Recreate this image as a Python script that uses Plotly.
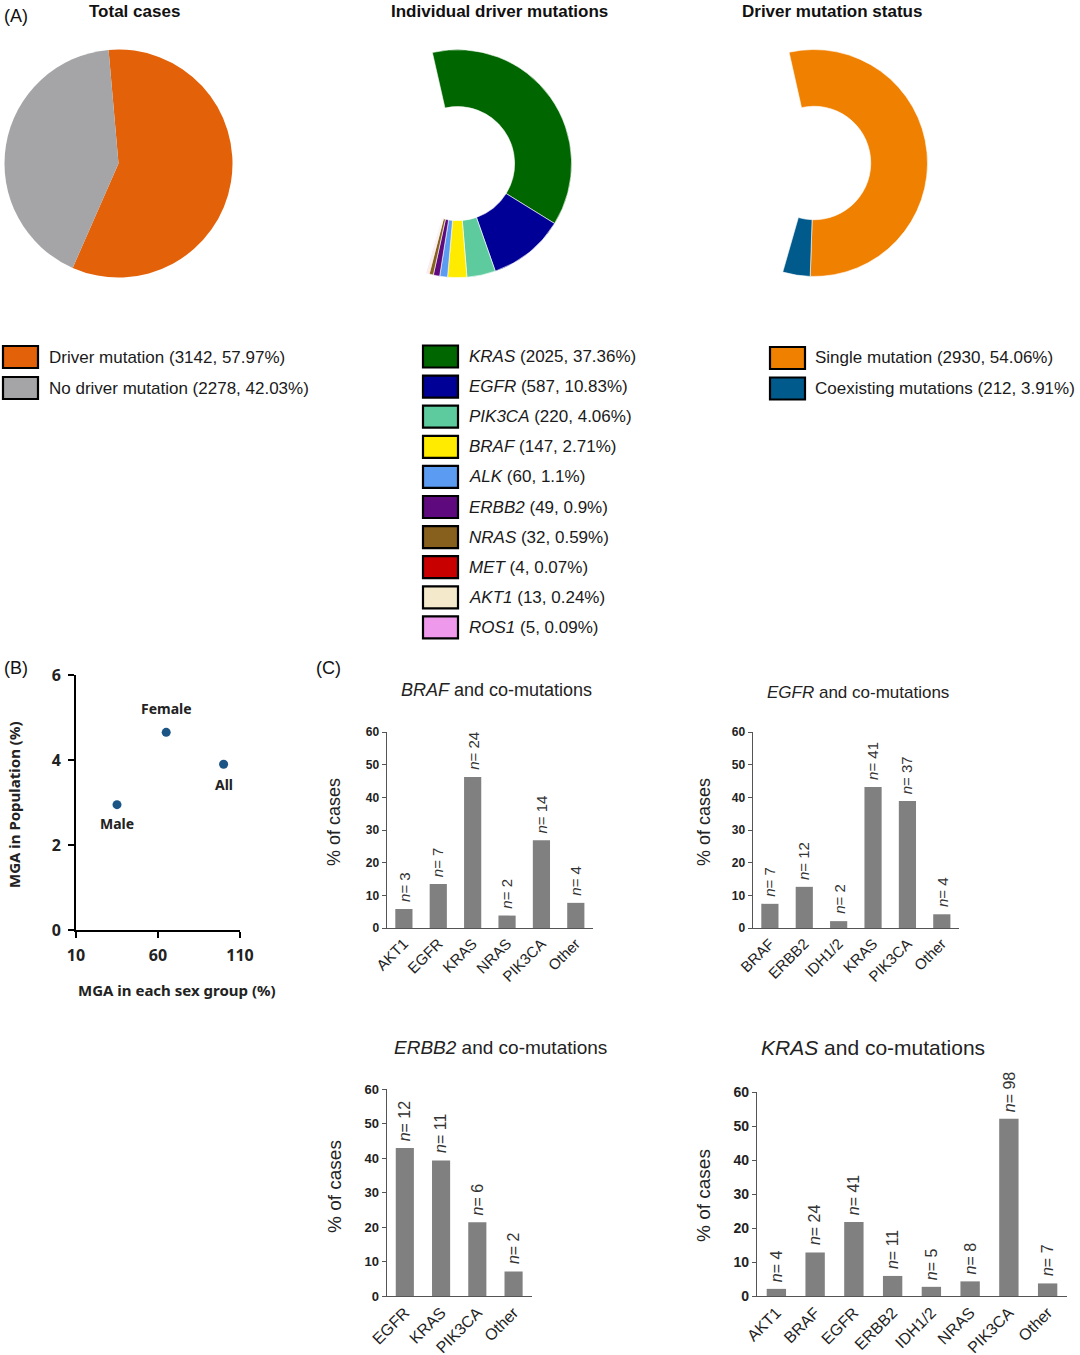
import plotly.graph_objects as go

W, H = 1080, 1355


def px(x):
    return x / W


def py(y):
    return 1 - y / H


# ---------------- data ----------------
total_labels = ["Driver mutation", "No driver mutation"]
total_counts = [3142, 2278]
total_pct = ["57.97", "42.03"]
total_colors = ["#E36209", "#A5A5A8"]

driver_genes = ["KRAS", "EGFR", "PIK3CA", "BRAF", "ALK", "ERBB2", "NRAS", "MET", "AKT1", "ROS1"]
driver_counts = [2025, 587, 220, 147, 60, 49, 32, 4, 13, 5]
driver_pct = ["37.36", "10.83", "4.06", "2.71", "1.1", "0.9", "0.59", "0.07", "0.24", "0.09"]
driver_colors = ["#006600", "#000096", "#5DCB9E", "#FFEB00", "#5C9BF2", "#5E0A7E",
                 "#87601E", "#C80000", "#F4EACB", "#EE99EC"]

status_labels = ["Single mutation", "Coexisting mutations"]
status_counts = [2930, 212]
status_pct = ["54.06", "3.91"]
status_colors = ["#F08000", "#005B8C"]

no_driver_count = 2278

sex_labels = ["Male", "Female", "All"]
mga_group = [35, 65, 100]
mga_pop = [2.95, 4.65, 3.9]

braf_cats = ["AKT1", "EGFR", "KRAS", "NRAS", "PIK3CA", "Other"]
braf_pct = [5.8, 13.5, 46.2, 3.8, 26.9, 7.7]
braf_n = [3, 7, 24, 2, 14, 4]

egfr_cats = ["BRAF", "ERBB2", "IDH1/2", "KRAS", "PIK3CA", "Other"]
egfr_pct = [7.4, 12.6, 2.1, 43.2, 38.9, 4.2]
egfr_n = [7, 12, 2, 41, 37, 4]

erbb2_cats = ["EGFR", "KRAS", "PIK3CA", "Other"]
erbb2_pct = [42.9, 39.3, 21.4, 7.1]
erbb2_n = [12, 11, 6, 2]

kras_cats = ["AKT1", "BRAF", "EGFR", "ERBB2", "IDH1/2", "NRAS", "PIK3CA", "Other"]
kras_pct = [2.1, 12.8, 21.8, 5.9, 2.7, 4.3, 52.1, 3.7]
kras_n = [4, 24, 41, 11, 5, 8, 98, 7]

ARIAL = "Liberation Sans, Arial, sans-serif"
SANS = "Noto Sans, Open Sans, sans-serif"
BAR_COLOR = "#808080"
AXIS_COLOR = "#555555"

fig = go.Figure()

# ---------------- (A) pies ----------------
fig.add_trace(go.Pie(
    labels=total_labels, values=total_counts, sort=False, direction="clockwise",
    rotation=-5, textinfo="none", showlegend=False, automargin=False,
    marker=dict(colors=total_colors, line=dict(width=0)),
    domain=dict(x=[px(4.5), px(232.5)], y=[py(277.5), py(49.5)]),
))

fig.add_trace(go.Pie(
    labels=driver_genes + ["none"], values=driver_counts + [no_driver_count],
    sort=False, direction="clockwise", rotation=-12.8, hole=0.5,
    textinfo="none", showlegend=False, automargin=False,
    marker=dict(colors=driver_colors + ["rgba(0,0,0,0)"],
                line=dict(color="white", width=[0.6] * len(driver_genes) + [0])),
    domain=dict(x=[px(343.6), px(571.6)], y=[py(277.6), py(49.6)]),
))

fig.add_trace(go.Pie(
    labels=status_labels + ["none"], values=status_counts + [no_driver_count],
    sort=False, direction="clockwise", rotation=-12.7, hole=0.5,
    textinfo="none", showlegend=False, automargin=False,
    marker=dict(colors=status_colors + ["rgba(0,0,0,0)"],
                line=dict(color="white", width=[0.6, 0.6, 0])),
    domain=dict(x=[px(700.5), px(927.5)], y=[py(276.5), py(49.5)]),
))

# ---------------- (B) scatter ----------------
fig.add_trace(go.Scatter(
    x=mga_group, y=mga_pop, mode="markers", xaxis="x", yaxis="y",
    marker=dict(color="#1B5586", size=9), showlegend=False, cliponaxis=False,
))

# ---------------- (C) bars ----------------
bar_sets = [
    (braf_cats, braf_pct, braf_n, "x2", "y2", 15),
    (egfr_cats, egfr_pct, egfr_n, "x3", "y3", 15),
    (erbb2_cats, erbb2_pct, erbb2_n, "x4", "y4", 16),
    (kras_cats, kras_pct, kras_n, "x5", "y5", 16),
]
for cats, vals, ns, xa, ya, fs in bar_sets:
    fig.add_trace(go.Bar(
        x=cats, y=vals, xaxis=xa, yaxis=ya, width=0.5,
        marker=dict(color=BAR_COLOR, line=dict(width=0)),
        showlegend=False, cliponaxis=False,
    ))

# ---------------- layout ----------------
scatter_axis = dict(showline=True, linecolor="black", linewidth=2, ticks="outside",
                    ticklen=6, tickwidth=2, tickcolor="black", showgrid=False,
                    zeroline=False, automargin=False,
                    tickfont=dict(family=SANS, size=16, color="#222222", weight="bold"))

layout = dict(
    width=W, height=H, margin=dict(l=0, r=0, t=0, b=0, pad=0, autoexpand=False),
    paper_bgcolor="white", plot_bgcolor="white",
    bargap=0.5,
    xaxis=dict(domain=[px(76), px(240)], range=[10, 110], tickvals=[10, 60, 110],
               anchor="y", ticklabelstandoff=4, **scatter_axis),
    yaxis=dict(domain=[py(930), py(675)], range=[0, 6], tickvals=[0, 2, 4, 6],
               anchor="x", ticklabelstandoff=4, **scatter_axis),
)


def bar_axes(n, xdom, ydom, ytick_size, xtick_size):
    xa = dict(domain=[px(xdom[0]), px(xdom[1])], anchor=f"y{n}", type="category",
              showline=True, linecolor=AXIS_COLOR, linewidth=1.3, ticks="",
              tickangle=-45, showgrid=False, zeroline=False, automargin=False,
              tickfont=dict(family=ARIAL, size=xtick_size, color="#222222"))
    ya = dict(domain=[py(ydom[1]), py(ydom[0])], anchor=f"x{n}", range=[0, 60],
              tickvals=[0, 10, 20, 30, 40, 50, 60], showline=True,
              linecolor=AXIS_COLOR, linewidth=1.3, ticks="outside", ticklen=4,
              tickcolor=AXIS_COLOR, showgrid=False, zeroline=False, automargin=False,
              tickfont=dict(family=ARIAL, size=ytick_size, color="#222222", weight="bold"))
    return xa, ya


for n, xdom, ydom, yts, xts in [
    (2, (386.7, 593), (732, 928), 12, 15),
    (3, (752.7, 959), (732, 928), 12, 15),
    (4, (386.7, 531.7), (1089, 1296), 13, 16),
    (5, (757, 1067), (1092, 1296), 14, 16),
]:
    xa, ya = bar_axes(n, xdom, ydom, yts, xts)
    layout[f"xaxis{n}"] = xa
    layout[f"yaxis{n}"] = ya

fig.update_layout(**layout)

ann = []
shapes = []


def text(x, y, s, size, family=ARIAL, xanchor="center", yanchor="middle", angle=0,
         weight="normal", color="#111111"):
    ann.append(dict(x=px(x), y=py(y), xref="paper", yref="paper", text=s, showarrow=False,
                    xanchor=xanchor, yanchor=yanchor, textangle=angle,
                    font=dict(family=family, size=size, color=color, weight=weight)))


# n labels above bars
for cats, vals, ns, xa, ya, fs in bar_sets:
    for c, v, n in zip(cats, vals, ns):
        ann.append(dict(x=c, y=v, xref=xa, yref=ya, text=f"<i>n</i>= {n}",
                        showarrow=False, textangle=-90, xanchor="center",
                        yanchor="bottom", yshift=6, borderpad=0,
                        font=dict(family=ARIAL, size=fs, color="#333333")))

# panel labels
text(2, 16, "(A)", 18, xanchor="left")
text(2, 668, "(B)", 18, xanchor="left")
text(314, 668, "(C)", 18, xanchor="left")

# pie titles
text(134, 11, "Total cases", 17, weight="bold")
text(499, 11, "Individual driver mutations", 17, weight="bold")
text(832, 11, "Driver mutation status", 17, weight="bold")


def legend(x_box, x_text, y0, dy, labels, colors):
    for i, (lab, col) in enumerate(zip(labels, colors)):
        yc = y0 + i * dy
        shapes.append(dict(type="rect", xref="paper", yref="paper",
                           x0=px(x_box), x1=px(x_box + 35), y0=py(yc + 11), y1=py(yc - 11),
                           fillcolor=col, line=dict(color="black", width=2.2)))
        text(x_text, yc, lab, 17, xanchor="left", color="#1a1a1a")


legend(3, 47, 357, 31,
       [f"{l} ({c}, {p}%)" for l, c, p in zip(total_labels, total_counts, total_pct)],
       total_colors)
legend(423, 467, 356.5, 30.1,
       [f"<i>{g}</i> ({c}, {p}%)" for g, c, p in zip(driver_genes, driver_counts, driver_pct)],
       driver_colors)
legend(770, 813, 358, 30.5,
       [f"{l} ({c}, {p}%)" for l, c, p in zip(status_labels, status_counts, status_pct)],
       status_colors)

# scatter point labels
shifts = {"Male": -19, "Female": 24, "All": -20}
for lab, xv, yv in zip(sex_labels, mga_group, mga_pop):
    ann.append(dict(x=xv, y=yv, xref="x", yref="y", text=lab, showarrow=False,
                    yshift=shifts[lab], xanchor="center", yanchor="middle",
                    font=dict(family=SANS, size=14, color="#222222", weight="bold")))

text(177, 990, "MGA in each sex group (%)", 15, family=SANS, weight="bold", color="#222222")
text(14, 805, "MGA in Population (%)", 15, family=SANS, weight="bold", angle=-90, color="#222222")

# bar titles
text(496, 690, "<i>BRAF</i> and co-mutations", 18, color="#222222")
text(858, 692, "<i>EGFR</i> and co-mutations", 17, color="#222222")
text(500, 1047, "<i>ERBB2</i> and co-mutations", 19, color="#222222")
text(873, 1047, "<i>KRAS</i> and co-mutations", 21, color="#222222")

# bar y titles
text(334, 822, "% of cases", 18, angle=-90, color="#222222")
text(704, 822, "% of cases", 18, angle=-90, color="#222222")
text(334, 1187, "% of cases", 19, angle=-90, color="#222222")
text(703, 1196, "% of cases", 19, angle=-90, color="#222222")

fig.update_layout(annotations=ann, shapes=shapes)

fig.write_html("out.html", config={"displayModeBar": False},
               post_script="document.body.style.margin='0';document.body.style.padding='0';")
